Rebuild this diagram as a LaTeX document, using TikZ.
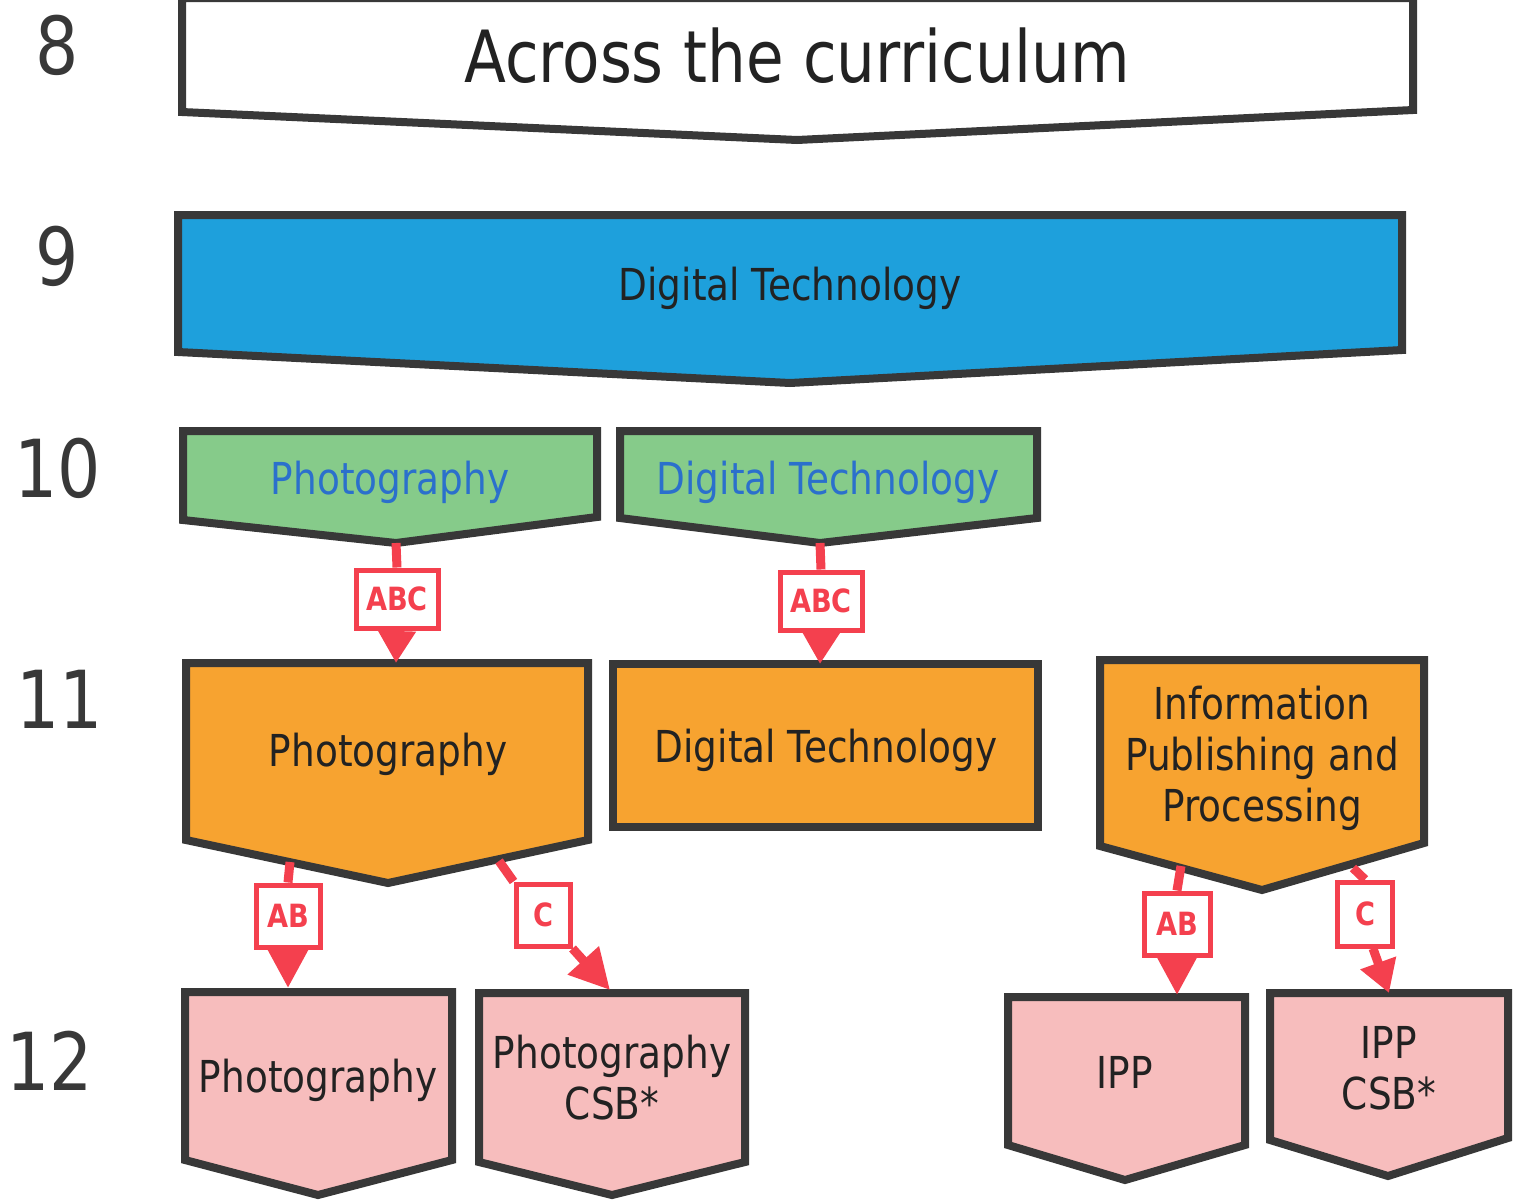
\documentclass[tikz,border=0pt]{standalone}
\usepackage{fontspec}
\setmainfont{DejaVu Sans}[FakeStretch=0.85]
\usetikzlibrary{arrows.meta}
\definecolor{bord}{HTML}{383838}
\definecolor{fblue}{HTML}{1EA0DC}
\definecolor{fgreen}{HTML}{86CB8A}
\definecolor{forange}{HTML}{F7A330}
\definecolor{fpink}{HTML}{F7BDBD}
\definecolor{cred}{HTML}{F4404E}
\definecolor{tblue}{HTML}{2B70CC}
\definecolor{tdark}{HTML}{222222}
\tikzset{
  chev/.style={draw=bord, line width=8pt, line join=miter},
  txt/.style={text=tdark, font=\fontsize{44}{51}\selectfont, inner sep=0pt, align=center},
  rowno/.style={text=bord, font=\fontsize{80}{80}\selectfont, inner sep=0pt, anchor=base},
  lbl/.style={draw=cred, line width=5pt, fill=white, text=cred, font=\bfseries\fontsize{32}{32}\selectfont, inner sep=0pt},
  stem/.style={draw=cred, line width=9pt},
  arr/.style={draw=cred, line width=9pt, -{Triangle[width=36pt,length=32pt]}},
  bigarr/.style={draw=cred, line width=9pt, -{Triangle[width=40pt,length=40pt]}},
}
\begin{document}
\begin{tikzpicture}[x=1pt,y=-1pt]
\useasboundingbox (0,0) rectangle (1519,1200);
\clip (0,0) rectangle (1519,1200);
\fill[white] (0,0) rectangle (1519,1200);

% row numbers
\node[rowno] (n8) at (57,74) {8};
\node[rowno] (n9) at (57,285) {9};
\node[rowno] (n10) at (58,497) {10};
\node[rowno] (n11) at (60,728) {11};
\node[rowno] (n12) at (50,1090) {12};

% row 8
\draw[chev, fill=white] (182,-2) -- (182,112) -- (797,140) -- (1413,110) -- (1413,-2) -- cycle;
\node[txt, anchor=base, font=\fontsize{72}{72}\selectfont] (t8) at (797,82) {Across the curriculum};

% row 9
\draw[chev, fill=fblue] (178,215) -- (178,352) -- (790,383) -- (1402,350) -- (1402,215) -- cycle;
\node[txt, anchor=base] (t9) at (790,300) {Digital Technology};

% row 10
\draw[chev, fill=fgreen] (183,431) -- (183,520) -- (396,543) -- (597,517) -- (597,431) -- cycle;
\coordinate (b10a) at (396,543);
\node[txt, anchor=base, text=tblue] (t10a) at (390,494) {Photography};
\draw[chev, fill=fgreen] (620,431) -- (620,518) -- (820,543) -- (1037,518) -- (1037,431) -- cycle;
\coordinate (b10b) at (820,543);
\node[txt, anchor=base, text=tblue] (t10b) at (828,494) {Digital Technology};

% row 11
\draw[chev, fill=forange] (186,663) -- (186,840) -- (388,883) -- (588,840) -- (588,663) -- cycle;
\coordinate (t11a) at (396,663);
\node[txt, anchor=base] (t11at) at (388,766) {Photography};
\draw[chev, fill=forange] (613,664) rectangle (1038,827);
\coordinate (t11b) at (820,664);
\node[txt, anchor=base] (t11bt) at (826,762) {Digital Technology};
\draw[chev, fill=forange] (1100,660) -- (1100,846) -- (1262,890) -- (1424,843) -- (1424,660) -- cycle;
\node[txt] (t11ct) at (1262,758) {Information\\Publishing and\\Processing};

% row 12
\draw[chev, fill=fpink] (185,992) -- (185,1160) -- (318,1195) -- (452,1160) -- (452,992) -- cycle;
\node[txt, anchor=base] (t12a) at (318,1092) {Photography};
\draw[chev, fill=fpink] (479,993) -- (479,1162) -- (612,1195) -- (745,1162) -- (745,993) -- cycle;
\node[txt] (t12b) at (612,1078) {Photography\\CSB*};
\draw[chev, fill=fpink] (1008,997) -- (1008,1145) -- (1125,1180) -- (1245,1145) -- (1245,997) -- cycle;
\node[txt, anchor=base] (t12c) at (1125,1088) {IPP};
\draw[chev, fill=fpink] (1270,993) -- (1270,1140) -- (1388,1176) -- (1508,1138) -- (1508,993) -- cycle;
\node[txt] (t12d) at (1389,1068) {IPP\\CSB*};

\coordinate (t12a-in) at (288,988);
\coordinate (t12b-in) at (610,990);
\coordinate (t12c-in) at (1177,995);
\coordinate (t12d-in) at (1389,993);

% connectors 10 -> 11
\node[lbl, minimum width=82pt, minimum height=58pt] (abc1) at (397,599) {ABC};
\node[lbl, minimum width=82pt, minimum height=58pt] (abc2) at (821,601) {ABC};
\draw[stem] (b10a) -- (abc1.north);
\draw[arr] (abc1.south) -- (t11a);
\draw[stem] (b10b) -- (abc2.north);
\draw[arr] (abc2.south) -- (t11b);

% connectors 11 -> 12 (left)
\coordinate (o11a1) at (290,862);
\coordinate (o11a2) at (499,861);
\node[lbl, minimum width=64pt, minimum height=62pt] (ab1) at (288,916) {AB};
\node[lbl, minimum width=54pt, minimum height=62pt] (c1) at (543,915) {C};
\draw[stem] (o11a1) -- (ab1.north);
\draw[bigarr] (ab1.south) -- (t12a-in);
\draw[stem] (o11a2) -- (c1.north west);
\draw[bigarr] (c1.south east) -- (t12b-in);

% connectors 11 -> 12 (right)
\coordinate (o11c1) at (1181,866);
\coordinate (o11c2) at (1353,868);
\node[lbl, minimum width=66pt, minimum height=62pt] (ab2) at (1177,924) {AB};
\node[lbl, minimum width=55pt, minimum height=64pt] (c2) at (1365,914) {C};
\draw[stem] (o11c1) -- (ab2.north);
\draw[bigarr] (ab2.south) -- (t12c-in);
\draw[stem] (o11c2) -- (c2.north);
\draw[arr] ([xshift=8pt]c2.south) -- (t12d-in);
\end{tikzpicture}
\end{document}
